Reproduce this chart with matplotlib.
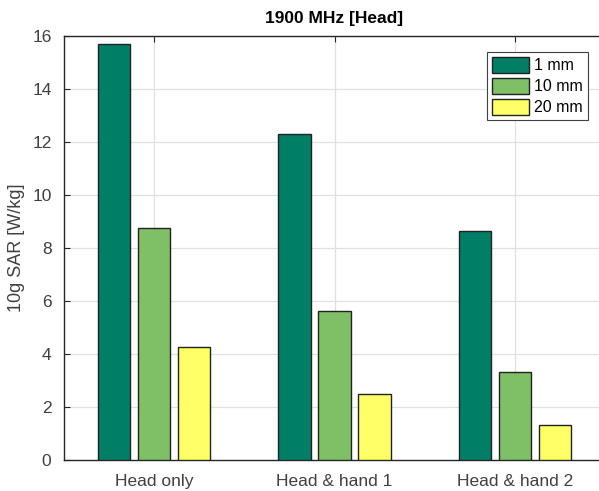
import numpy as np
import matplotlib
matplotlib.use("Agg")
import matplotlib.pyplot as plt

plt.rcParams["font.family"] = ["Liberation Sans", "DejaVu Sans"]

groups = ["Head only", "Head & hand 1", "Head & hand 2"]
series = ["1 mm", "10 mm", "20 mm"]
sar_1mm = [15.7, 12.3, 8.65]
sar_10mm = [8.75, 5.62, 3.32]
sar_20mm = [4.25, 2.5, 1.32]
colors = ["#007f66", "#7fbf66", "#ffff66"]

fig = plt.figure(figsize=(5.99, 4.91), dpi=100)
# right edge sits just past the image border, as in the reference
ax = fig.add_axes([64 / 599, 31 / 491, 541 / 599, 424 / 491])

x = np.arange(1, len(groups) + 1)
offset = 0.222
width = 0.18
for i, (vals, lab, col) in enumerate(zip([sar_1mm, sar_10mm, sar_20mm], series, colors)):
    ax.bar(x + (i - 1) * offset, vals, width, color=col, edgecolor="#222222",
           linewidth=1.0, label=lab, zorder=3)

ax.set_xlim(0.5, 3.5)
ax.set_ylim(0, 16)
ax.set_xticks(x)
ax.set_xticklabels(groups)
ax.set_yticks(range(0, 17, 2))
ax.grid(True, color="#e0e0e0", linewidth=0.9, zorder=0)
ax.tick_params(direction="in", length=4, labelsize=12.5, colors="#262626",
               labelcolor="#404040", top=True, right=True)
ax.tick_params(axis="x", pad=10)
ax.tick_params(axis="y", pad=9)
for sp in ax.spines.values():
    sp.set_color("#262626")
    sp.set_linewidth(1.0)

ax.set_ylabel("10g SAR [W/kg]", fontsize=13, color="#404040", labelpad=5)
ax.set_title("1900 MHz [Head]", fontsize=12.5, fontweight="bold", pad=9)

leg = ax.legend(loc="upper right", bbox_to_anchor=(0.9686, 0.962), borderaxespad=0,
                fontsize=11.5, handlelength=2.3, handleheight=1.15, handletextpad=0.35,
                labelspacing=0.3, borderpad=0.3, fancybox=False, framealpha=1)
leg.get_frame().set_edgecolor("#404040")
leg.get_frame().set_linewidth(0.8)

fig.savefig("out.png", dpi=100)
